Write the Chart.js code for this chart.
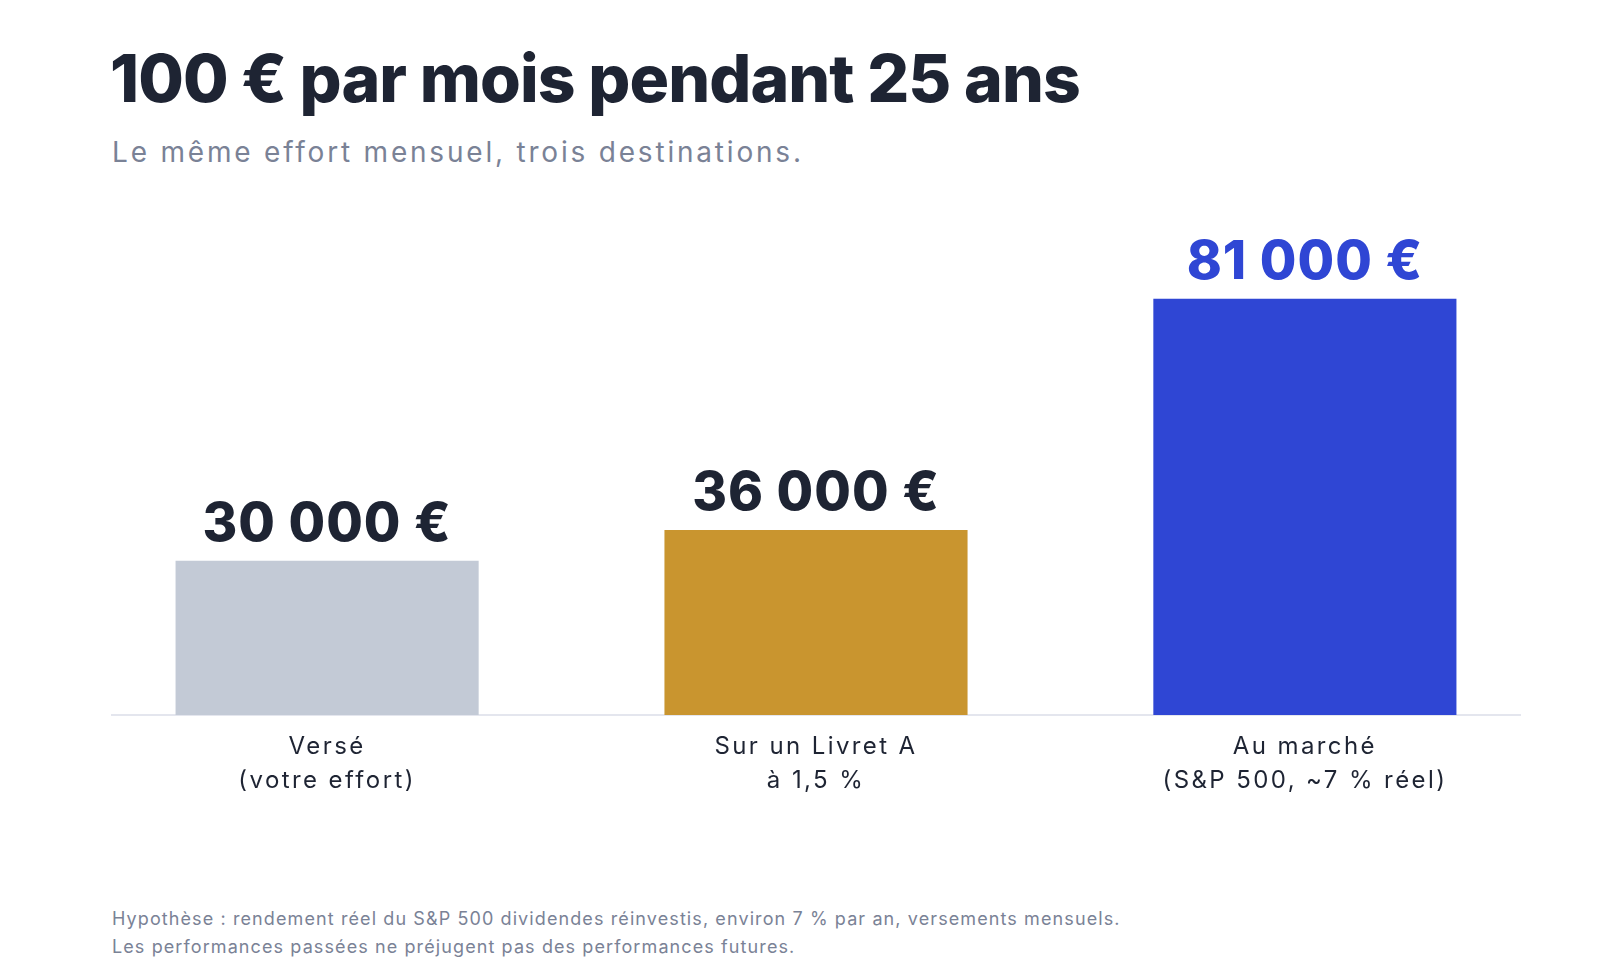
<!DOCTYPE html>
<html lang="fr">
<head>
<meta charset="utf-8">
<title>100 € par mois pendant 25 ans</title>
<script src="https://cdn.jsdelivr.net/npm/chart.js@4.4.1/dist/chart.umd.min.js"></script>
<style>
  html, body { margin: 0; padding: 0; background: #fff; }
  body { width: 1600px; height: 980px; position: relative; overflow: hidden; font-family: Inter, "Noto Sans", sans-serif; }
  h1 { position: absolute; left: 110px; top: 38px; margin: 0; font-size: 66px; line-height: 80px; font-weight: 800; color: #1e2433; letter-spacing: -0.9px; }
  .sub { position: absolute; left: 112px; top: 132px; margin: 0; font-size: 28px; line-height: 40px; color: #7a8296; letter-spacing: 2.8px; }
  .note { position: absolute; left: 112px; top: 905px; margin: 0; font-size: 18px; line-height: 28px; color: #7a8296; letter-spacing: 1.1px; }
  #wrap { position: absolute; left: 0; top: 191px; width: 1600px; height: 634px; }
</style>
</head>
<body>
<h1>100 € par mois pendant 25 ans</h1>
<p class="sub">Le même effort mensuel, trois destinations.</p>
<div id="wrap"><canvas id="barChart"></canvas></div>
<p class="note">Hypothèse : rendement réel du S&amp;P 500 dividendes réinvestis, environ 7 % par an, versements mensuels.<br>Les performances passées ne préjugent pas des performances futures.</p>

<script>
const categories = [
  ["Versé", "(votre effort)"],
  ["Sur un Livret A", "à 1,5 %"],
  ["Au marché", "(S&P 500, ~7 % réel)"]
];
const values = [30000, 36000, 81000];
const barColors = ["#c3cad6", "#c9952f", "#2f46d4"];
const labelColors = ["#1e2433", "#1e2433", "#2f46d4"];

// "30 000 €" style
const fmt = v => String(v).replace(/\B(?=(\d{3})+(?!\d))/g, " ") + " €";

// wider text, the original font is wider than Inter
const spacing = {
  id: "spacing",
  beforeDraw(chart) { chart.ctx.letterSpacing = "2.4px"; }
};

// value above each bar
const valueLabels = {
  id: "valueLabels",
  afterDatasetsDraw(chart) {
    const ctx = chart.ctx;
    chart.getDatasetMeta(0).data.forEach((bar, i) => {
      ctx.save();
      ctx.letterSpacing = "1px";
      ctx.font = "800 53px Inter";
      ctx.fillStyle = labelColors[i];
      ctx.textAlign = "center";
      ctx.textBaseline = "alphabetic";
      ctx.fillText(fmt(values[i]), bar.x, bar.y - 20);
      ctx.restore();
    });
  }
};

const barCtx = document.getElementById("barChart");
new Chart(barCtx, {
  type: "bar",
  data: {
    datasets: [{
      data: values.map((v, i) => ({ x: i, y: v })),
      backgroundColor: barColors,
      categoryPercentage: 1,
      barPercentage: 0.62,
      borderWidth: 0
    }]
  },
  options: {
    responsive: true,
    maintainAspectRatio: false,
    animation: false,
    layout: { padding: { left: 112, right: 80, top: 10, bottom: 0 } },
    plugins: {
      legend: { display: false },
      tooltip: { enabled: false }
    },
    scales: {
      y: { display: false, min: 0, max: 100000 },
      x: {
        type: "linear",
        offset: false,
        min: -0.44,
        max: 2.44,
        grid: { display: false, drawTicks: false },
        border: { display: true, color: "#e4e6ee", width: 2 },
        ticks: {
          stepSize: 1,
          includeBounds: false,
          autoSkip: false,
          maxRotation: 0,
          color: "#1e2433",
          padding: 14,
          font: { family: "Inter", size: 24, lineHeight: 1.45 },
          callback: v => categories[v] || ""
        },
        afterFit: axis => { axis.height = 110; }
      }
    }
  },
  plugins: [spacing, valueLabels]
});
</script>
</body>
</html>
